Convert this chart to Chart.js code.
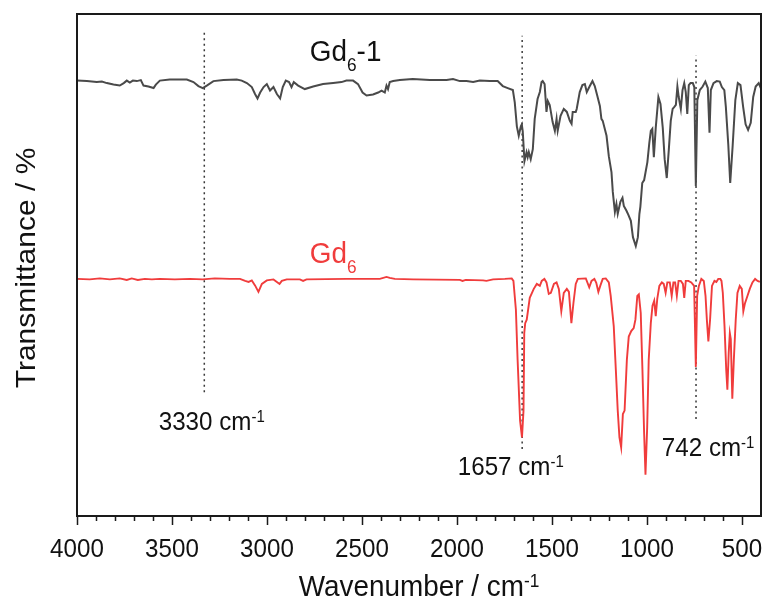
<!DOCTYPE html>
<html>
<head>
<meta charset="utf-8">
<script src="https://cdn.jsdelivr.net/npm/chart.js@4.4.1/dist/chart.umd.min.js"></script>
<style>
  html, body { margin: 0; padding: 0; background: #fff; }
  canvas { display: block; }
</style>
</head>
<body>
<canvas id="irChart" width="766" height="604"></canvas>
<script>
// Gd6-1 spectrum (upper, dark grey)
const gd61Wave = [
  4000, 3948, 3896, 3869, 3843, 3808, 3775, 3754, 3738, 3722,
  3706, 3685, 3664, 3650, 3624, 3597, 3585, 3564, 3512, 3422,
  3387, 3361, 3338, 3317, 3282, 3229, 3159, 3133, 3106, 3080,
  3063, 3050, 3036, 3018, 3001, 2984, 2966, 2948, 2931, 2917,
  2901, 2884, 2871, 2859, 2836, 2801, 2757, 2705, 2652, 2608,
  2582, 2547, 2521, 2497, 2476, 2442, 2415, 2397, 2380, 2371,
  2363, 2354, 2336, 2301, 2233, 2143, 2055, 2021, 1985, 1950,
  1915, 1880, 1828, 1786, 1759, 1733, 1706, 1696, 1685, 1675,
  1664, 1659, 1654, 1645, 1634, 1628, 1622, 1612, 1601, 1591,
  1576, 1564, 1555, 1549, 1539, 1529, 1522, 1512, 1497, 1485,
  1476, 1470, 1455, 1438, 1422, 1406, 1397, 1391, 1375, 1370,
  1354, 1340, 1327, 1317, 1301, 1287, 1275, 1264, 1248, 1240,
  1233, 1213, 1201, 1187, 1180, 1169, 1161, 1154, 1140, 1129,
  1122, 1108, 1098, 1085, 1074, 1059, 1048, 1040, 1035, 1025,
  1015, 998, 988, 980, 972, 964, 954, 940, 929, 917,
  907, 896, 885, 875, 865, 856, 848, 840, 833, 822,
  813, 804, 796, 788, 780, 771, 759, 751, 743, 735,
  722, 707, 693, 680, 671, 664, 650, 633, 617, 606,
  593, 585, 572, 562, 549, 535, 522, 508, 494, 481,
  468, 454, 441, 428, 412, 401
];
const gd61T = [
  87.6, 87.5, 87.3, 87.4, 87.1, 86.8, 86.6, 87.1, 87.6, 87.2,
  87.6, 87.5, 87.7, 86.6, 86.4, 86.1, 86.8, 87.6, 87.8, 87.8,
  87.3, 86.5, 86.1, 86.6, 87.5, 87.7, 87.8, 87.6, 87.1, 86.3,
  84.9, 84.0, 85.2, 86.3, 86.9, 85.6, 86.3, 84.9, 84.0, 86.3,
  87.6, 87.3, 86.3, 87.3, 86.6, 85.9, 86.4, 86.9, 87.1, 87.3,
  87.6, 87.6, 86.9, 85.2, 84.6, 84.8, 85.2, 85.6, 85.2, 86.6,
  85.9, 87.3, 87.5, 87.7, 87.9, 87.7, 87.7, 87.9, 87.5, 87.5,
  87.3, 87.6, 87.5, 87.5, 86.5, 86.1, 85.7, 83.2, 78.4, 76.5,
  78.4, 78.8, 77.4, 71.4, 73.2, 72.2, 73.2, 71.8, 73.8, 79.9,
  83.9, 85.3, 87.3, 87.5, 86.9, 81.3, 83.5, 82.7, 79.3, 77.5,
  79.9, 77.5, 80.5, 81.9, 81.3, 79.5, 78.9, 81.3, 81.3, 81.9,
  85.3, 86.7, 86.9, 85.3, 86.5, 87.5, 86.5, 84.9, 82.5, 79.9,
  79.5, 76.5, 72.4, 69.2, 65.2, 61.2, 62.8, 60.8, 63.2, 64.0,
  62.4, 61.4, 60.6, 59.4, 56.1, 54.3, 56.1, 60.8, 62.2, 67.0,
  67.6, 71.2, 75.0, 77.5, 77.9, 72.2, 78.1, 84.3, 82.9, 78.1,
  71.8, 68.0, 73.8, 79.5, 81.9, 82.3, 82.7, 86.4, 84.3, 81.9,
  85.7, 87.1, 85.3, 80.9, 86.7, 87.1, 87.1, 86.3, 66.4, 83.7,
  85.7, 86.4, 87.4, 86.1, 77.1, 85.7, 87.1, 87.5, 87.4, 86.3,
  85.7, 82.3, 74.6, 67.0, 74.6, 83.7, 87.1, 86.7, 82.3, 78.8,
  77.7, 79.1, 84.3, 86.4, 87.1, 86.1
];

// Gd6 spectrum (lower, red)
const gd6Wave = [
  4000, 3933, 3880, 3827, 3775, 3738, 3712, 3680, 3643, 3606,
  3564, 3485, 3406, 3338, 3275, 3196, 3142, 3115, 3097, 3080,
  3063, 3045, 3027, 3001, 2966, 2948, 2934, 2922, 2896, 2827,
  2810, 2792, 2582, 2406, 2371, 2354, 2327, 2231, 1985, 1971,
  1954, 1863, 1845, 1810, 1748, 1712, 1703, 1690, 1681, 1668,
  1658, 1650, 1646, 1641, 1633, 1617, 1596, 1580, 1564, 1554,
  1540, 1529, 1517, 1506, 1490, 1476, 1464, 1451, 1438, 1422,
  1411, 1398, 1387, 1375, 1364, 1322, 1304, 1292, 1277, 1267,
  1256, 1246, 1233, 1217, 1201, 1191, 1175, 1164, 1154, 1145,
  1136, 1127, 1118, 1106, 1096, 1083, 1070, 1061, 1051, 1043,
  1033, 1024, 1015, 1008, 999, 991, 980, 971, 962, 954,
  946, 935, 922, 912, 902, 893, 880, 870, 861, 852,
  843, 834, 822, 811, 804, 796, 782, 767, 752, 743,
  736, 727, 714, 701, 692, 685, 677, 668, 658, 645,
  635, 625, 614, 608, 601, 592, 583, 577, 570, 564,
  559, 551, 543, 533, 524, 512, 501, 493, 485, 471,
  459, 445, 431, 418, 406
];
const gd6T = [
  47.7, 47.6, 47.8, 47.6, 47.8, 47.5, 47.8, 47.5, 47.7, 47.6,
  47.7, 47.6, 47.7, 47.6, 47.8, 47.7, 47.7, 47.3, 47.1, 47.4,
  46.4, 45.1, 46.7, 47.4, 47.6, 47.1, 46.7, 47.3, 47.6, 47.6,
  47.3, 47.6, 47.7, 47.7, 48.1, 47.9, 47.7, 47.6, 47.5, 47.3,
  47.5, 47.4, 47.3, 47.6, 47.7, 47.8, 47.3, 41.5, 31.4, 19.2,
  15.8, 21.2, 36.8, 38.8, 39.5, 43.9, 45.7, 46.7, 46.3, 47.3,
  47.7, 47.0, 44.7, 44.9, 46.7, 47.0, 45.7, 41.2, 44.9, 45.7,
  45.1, 38.8, 42.9, 46.7, 47.7, 47.8, 46.0, 47.3, 47.7, 46.9,
  45.1, 46.3, 47.7, 47.8, 47.0, 44.3, 38.2, 29.4, 21.2, 15.8,
  13.8, 20.5, 21.2, 31.4, 36.1, 37.2, 37.8, 39.5, 44.3, 44.6,
  40.9, 29.4, 16.5, 8.3, 17.9, 31.4, 38.8, 42.3, 43.3, 40.2,
  43.7, 46.3, 47.0, 46.7, 44.9, 47.0, 47.0, 44.3, 47.0, 47.0,
  44.3, 47.3, 47.3, 46.7, 43.9, 47.3, 47.3, 47.0, 46.3, 30.0,
  44.3, 46.3, 47.7, 47.3, 44.3, 39.5, 35.1, 39.5, 46.3, 47.3,
  47.1, 47.7, 47.7, 47.3, 44.9, 38.2, 29.4, 25.4, 32.8, 36.8,
  35.6, 23.6, 31.4, 39.5, 44.9, 46.3, 45.7, 41.2, 42.7, 44.3,
  45.7, 47.0, 47.7, 47.3, 47.1
];

// marked bands (dotted guide lines)
const peakWaves = [3330, 1657, 742];
const peakLineTop = [97.6, 96.6, 92.6];
const peakLineBottom = [24.9, 13.5, 19.5];

const xMajorTicks = [4000, 3500, 3000, 2500, 2000, 1500, 1000, 500];
const xMinorTicks = [];
for (let v = 3900; v > 400; v -= 100) {
  if (v % 500 !== 0) xMinorTicks.push(v);
}

function toPoints(xs, ys) {
  return xs.map((x, i) => ({ x: x, y: ys[i] }));
}

const FONT = '"Liberation Sans", Arial, sans-serif';
const SQUEEZE = 0.93; // the reference lettering is a little condensed

function richWidth(ctx, parts, size) {
  let w = 0;
  parts.forEach(([t, kind]) => {
    const s = kind === 'n' ? size : size * 0.62;
    ctx.font = s + 'px ' + FONT;
    w += ctx.measureText(t).width;
  });
  return w * SQUEEZE;
}

// text with sub/superscript pieces, left aligned at x, baseline y
function richText(ctx, parts, x, y, size, color) {
  ctx.save();
  ctx.translate(x, y);
  ctx.scale(SQUEEZE, 1);
  ctx.fillStyle = color;
  ctx.textAlign = 'left';
  ctx.textBaseline = 'alphabetic';
  let cx = 0;
  parts.forEach(([t, kind]) => {
    const s = kind === 'n' ? size : size * 0.62;
    let dy = 0;
    if (kind === 'sub') dy = size * 0.33;
    if (kind === 'sup') dy = -size * 0.3;
    ctx.font = s + 'px ' + FONT;
    ctx.fillText(t, cx, dy);
    cx += ctx.measureText(t).width;
  });
  ctx.restore();
}

const labels = [
  { parts: [['Gd', 'n'], ['6', 'sub'], ['-1', 'n']], x: 2775, y: 91.5, size: 30, color: '#111' },
  { parts: [['Gd', 'n'], ['6', 'sub']], x: 2775, y: 50.9, size: 30, color: '#f03c3c' },
  { parts: [['3330 cm', 'n'], ['-1', 'sup']], x: 3570, y: 17.3, size: 26, color: '#111' },
  { parts: [['1657 cm', 'n'], ['-1', 'sup']], x: 1996, y: 8.2, size: 26, color: '#111' },
  { parts: [['742 cm', 'n'], ['-1', 'sup']], x: 922, y: 12.1, size: 26, color: '#111' }
];

const framePlugin = {
  id: 'frame',
  afterDraw(chart) {
    const ctx = chart.ctx;
    const area = chart.chartArea;
    const xs = chart.scales.x;
    const ys = chart.scales.y;
    ctx.save();

    // axes box
    ctx.strokeStyle = '#1a1a1a';
    ctx.lineWidth = 2;
    ctx.strokeRect(area.left, area.top, area.right - area.left, area.bottom - area.top);

    // ticks below the bottom axis
    ctx.lineWidth = 1.5;
    ctx.beginPath();
    xMajorTicks.forEach(v => {
      const px = Math.round(xs.getPixelForValue(v)) + 0.5;
      ctx.moveTo(px, area.bottom);
      ctx.lineTo(px, area.bottom + 9);
    });
    xMinorTicks.forEach(v => {
      const px = Math.round(xs.getPixelForValue(v)) + 0.5;
      ctx.moveTo(px, area.bottom);
      ctx.lineTo(px, area.bottom + 5);
    });
    ctx.stroke();

    // tick labels
    ctx.fillStyle = '#111';
    ctx.font = '26px ' + FONT;
    ctx.textAlign = 'center';
    ctx.textBaseline = 'alphabetic';
    xMajorTicks.forEach(v => {
      ctx.save();
      ctx.translate(xs.getPixelForValue(v), area.bottom + 41);
      ctx.scale(SQUEEZE, 1);
      ctx.fillText(String(v), 0, 0);
      ctx.restore();
    });

    // x title
    const xt = [['Wavenumber / cm', 'n'], ['-1', 'sup']];
    const w = richWidth(ctx, xt, 30);
    richText(ctx, xt, (area.left + area.right) / 2 - w / 2, area.bottom + 80, 30, '#111');

    // y title
    ctx.save();
    ctx.translate(27, (area.top + area.bottom) / 2 + 3);
    ctx.rotate(-Math.PI / 2);
    ctx.scale(1, SQUEEZE);
    ctx.font = '30px ' + FONT;
    ctx.fillStyle = '#111';
    ctx.textAlign = 'center';
    ctx.textBaseline = 'middle';
    ctx.fillText('Transmittance / %', 0, 0);
    ctx.restore();

    // annotations
    labels.forEach(l => {
      richText(ctx, l.parts, xs.getPixelForValue(l.x), ys.getPixelForValue(l.y), l.size, l.color);
    });

    ctx.restore();
  }
};

const guideSets = peakWaves.map((p, i) => ({
  data: [{ x: p, y: peakLineBottom[i] }, { x: p, y: peakLineTop[i] }],
  borderColor: '#3a3a3a',
  borderWidth: 1.5,
  borderDash: [2, 3.5],
  pointRadius: 0
}));

const ctx = document.getElementById('irChart').getContext('2d');
const chart = new Chart(ctx, {
  type: 'line',
  data: {
    datasets: [
      {
        label: 'Gd6-1',
        data: toPoints(gd61Wave, gd61T),
        borderColor: '#4a4a4a',
        borderWidth: 2,
        pointRadius: 0
      },
      {
        label: 'Gd6',
        data: toPoints(gd6Wave, gd6T),
        borderColor: '#f03c3c',
        borderWidth: 1.9,
        pointRadius: 0
      },
      ...guideSets
    ]
  },
  options: {
    responsive: false,
    animation: false,
    layout: { padding: { left: 77, top: 14, right: 5, bottom: 88 } },
    elements: { line: { tension: 0 } },
    plugins: {
      legend: { display: false },
      tooltip: { enabled: false }
    },
    scales: {
      x: { type: 'linear', reverse: true, min: 400, max: 4000, display: false },
      y: { type: 'linear', min: 0, max: 101, display: false }
    }
  },
  plugins: [framePlugin]
});
</script>
</body>
</html>
